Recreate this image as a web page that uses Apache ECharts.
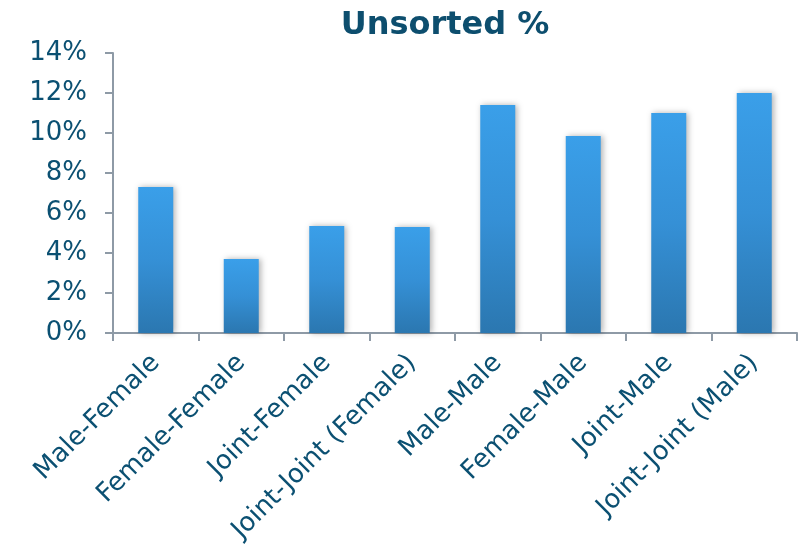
<!DOCTYPE html>
<html>
<head>
<meta charset="utf-8">
<script src="https://cdn.jsdelivr.net/npm/echarts@6/dist/echarts.min.js"></script>
<style>
  html, body { margin: 0; padding: 0; background: #fff; }
  #main { width: 807px; height: 556px; }
</style>
</head>
<body>
<div id="main"></div>
<script>
// categories and unsorted share (%)
var categories = ['Male-Female', 'Female-Female', 'Joint-Female', 'Joint-Joint (Female)',
                  'Male-Male', 'Female-Male', 'Joint-Male', 'Joint-Joint (Male)'];
var unsorted = [7.3, 3.7, 5.35, 5.3, 11.4, 9.85, 11.0, 12.0];
var yTicks = [0, 2, 4, 6, 8, 10, 12, 14];

var textColor = '#0b5072';
var axisColor = '#8e9aa6';

var myChart = echarts.init(document.getElementById('main'));

var option = {
    animation: false,
    title: {
        text: 'Unsorted %',
        left: 440,
        textAlign: 'center',
        top: 5,
        textStyle: {
            fontFamily: 'DejaVu Sans',
            fontSize: 32,
            fontWeight: 'bold',
            color: '#0d4e6e'
        }
    },
    grid: {
        left: 113,
        right: 10,
        top: 53,
        bottom: 223,
        containLabel: false
    },
    xAxis: {
        type: 'category',
        data: categories,
        boundaryGap: true,
        axisLine: { lineStyle: { color: axisColor, width: 2 } },
        axisTick: { show: true, length: 8, inside: false, lineStyle: { color: axisColor, width: 2 } },
        axisLabel: {
            rotate: 45,
            interval: 0,
            margin: 26,
            fontFamily: 'DejaVu Sans',
            fontSize: 26,
            color: textColor
        }
    },
    yAxis: {
        type: 'value',
        min: yTicks[0],
        max: yTicks[yTicks.length - 1],
        interval: 2,
        splitLine: { show: false },
        axisLine: { show: true, lineStyle: { color: axisColor, width: 2 } },
        axisTick: { show: true, length: 8, lineStyle: { color: axisColor, width: 2 } },
        axisLabel: {
            margin: 26,
            fontFamily: 'DejaVu Sans',
            fontSize: 26,
            color: textColor,
            formatter: '{value}%'
        }
    },
    series: [
        {
            name: 'Unsorted',
            type: 'bar',
            data: unsorted,
            barWidth: 35,
            itemStyle: {
                color: new echarts.graphic.LinearGradient(0, 0, 0, 1, [
                    { offset: 0, color: '#3a9fe9' },
                    { offset: 0.5, color: '#3590d6' },
                    { offset: 1, color: '#2b77b0' }
                ]),
                shadowColor: 'rgba(0,0,0,0.3)',
                shadowBlur: 6,
                shadowOffsetX: 2,
                shadowOffsetY: 0
            }
        }
    ]
};

myChart.setOption(option);
</script>
</body>
</html>
